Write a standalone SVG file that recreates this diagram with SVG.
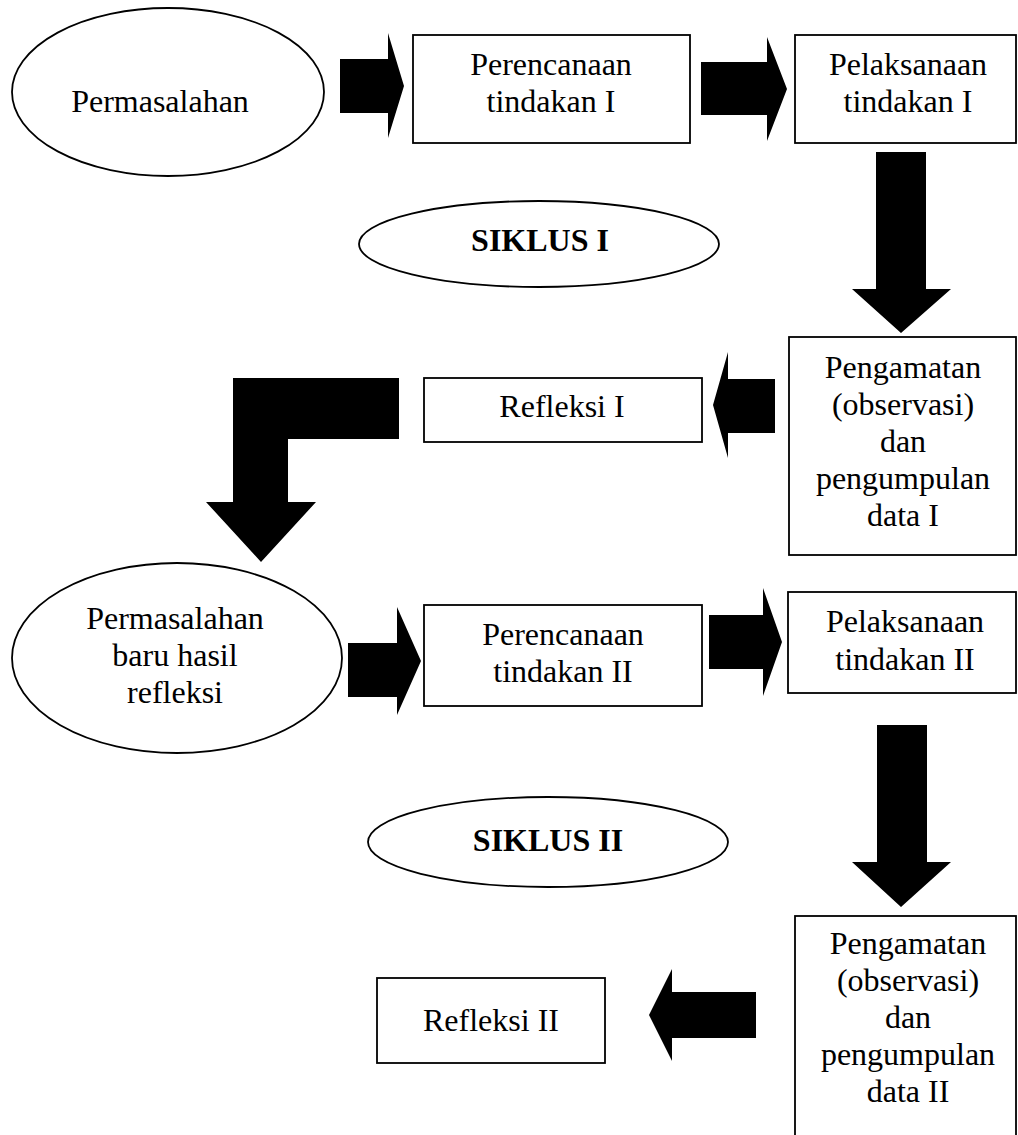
<svg xmlns="http://www.w3.org/2000/svg" width="1018" height="1135" viewBox="0 0 1018 1135">
<style>
.shape{fill:#fff;stroke:#000;stroke-width:1.8}
.t{font-family:"Liberation Serif","Times New Roman",serif;font-size:32px;fill:#000;text-anchor:middle}
.b{font-weight:bold}
.arr{fill:#000;stroke:none}
</style>
<rect width="1018" height="1135" fill="#fff"/>
<g id="connectors">
<polygon class="arr" points="340,59 388,59 388,33 404,86 388,138 388,113 340,113"/>
<polygon class="arr" points="701,62 767,62 767,37 787,89 767,141 767,115 701,115"/>
<polygon class="arr" points="876,152 926,152 926,289 951,289 901,333 852,289 876,289"/>
<polygon class="arr" points="775,379 728,379 728,352 713,405 728,458 728,433 775,433"/>
<polygon class="arr" points="399,378 399,439 288,439 288,502 316,502 261,562 206,502 233,502 233,378"/>
<polygon class="arr" points="348,643 397,643 397,607 421,661 397,715 397,697 348,697"/>
<polygon class="arr" points="709,615 763,615 763,588 782,642 763,696 763,669 709,669"/>
<polygon class="arr" points="877,725 927,725 927,862 951,862 901,907 852,862 877,862"/>
<polygon class="arr" points="756,992 672,992 672,969 649,1015 672,1061 672,1038 756,1038"/>
</g>
<g id="permasalahan">
<ellipse class="shape" cx="168" cy="92" rx="156" ry="84"/>
<text class="t" x="160" y="112">Permasalahan</text>
</g>
<g id="perencanaan1">
<rect class="shape" x="413" y="35" width="277" height="108"/>
<text class="t" x="551" y="75">Perencanaan</text>
<text class="t" x="551" y="112">tindakan I</text>
</g>
<g id="pelaksanaan1">
<rect class="shape" x="795" y="35" width="221" height="108"/>
<text class="t" x="908" y="75">Pelaksanaan</text>
<text class="t" x="908" y="112">tindakan I</text>
</g>
<g id="siklus1">
<ellipse class="shape" cx="539" cy="244" rx="180" ry="43"/>
<text class="t b" x="540" y="251">SIKLUS I</text>
</g>
<g id="pengamatan1">
<rect class="shape" x="789" y="337" width="227" height="218"/>
<text class="t" x="903" y="378">Pengamatan</text>
<text class="t" x="903" y="415">(observasi)</text>
<text class="t" x="903" y="452">dan</text>
<text class="t" x="903" y="489">pengumpulan</text>
<text class="t" x="903" y="526">data I</text>
</g>
<g id="refleksi1">
<rect class="shape" x="424" y="378" width="278" height="64"/>
<text class="t" x="562" y="417">Refleksi I</text>
</g>
<g id="permasalahan2">
<ellipse class="shape" cx="177" cy="658" rx="165" ry="95"/>
<text class="t" x="175" y="629">Permasalahan</text>
<text class="t" x="175" y="666">baru hasil</text>
<text class="t" x="175" y="703">refleksi</text>
</g>
<g id="perencanaan2">
<rect class="shape" x="424" y="605" width="278" height="101"/>
<text class="t" x="563" y="645">Perencanaan</text>
<text class="t" x="563" y="682">tindakan II</text>
</g>
<g id="pelaksanaan2">
<rect class="shape" x="788" y="592" width="228" height="101"/>
<text class="t" x="905" y="632">Pelaksanaan</text>
<text class="t" x="905" y="670">tindakan II</text>
</g>
<g id="siklus2">
<ellipse class="shape" cx="548" cy="842" rx="180" ry="45"/>
<text class="t b" x="548" y="851">SIKLUS II</text>
</g>
<g id="pengamatan2">
<rect class="shape" x="795" y="916" width="221" height="230"/>
<text class="t" x="908" y="954">Pengamatan</text>
<text class="t" x="908" y="991">(observasi)</text>
<text class="t" x="908" y="1028">dan</text>
<text class="t" x="908" y="1065">pengumpulan</text>
<text class="t" x="908" y="1102">data II</text>
</g>
<g id="refleksi2">
<rect class="shape" x="377" y="978" width="228" height="85"/>
<text class="t" x="491" y="1031">Refleksi II</text>
</g>
</svg>
